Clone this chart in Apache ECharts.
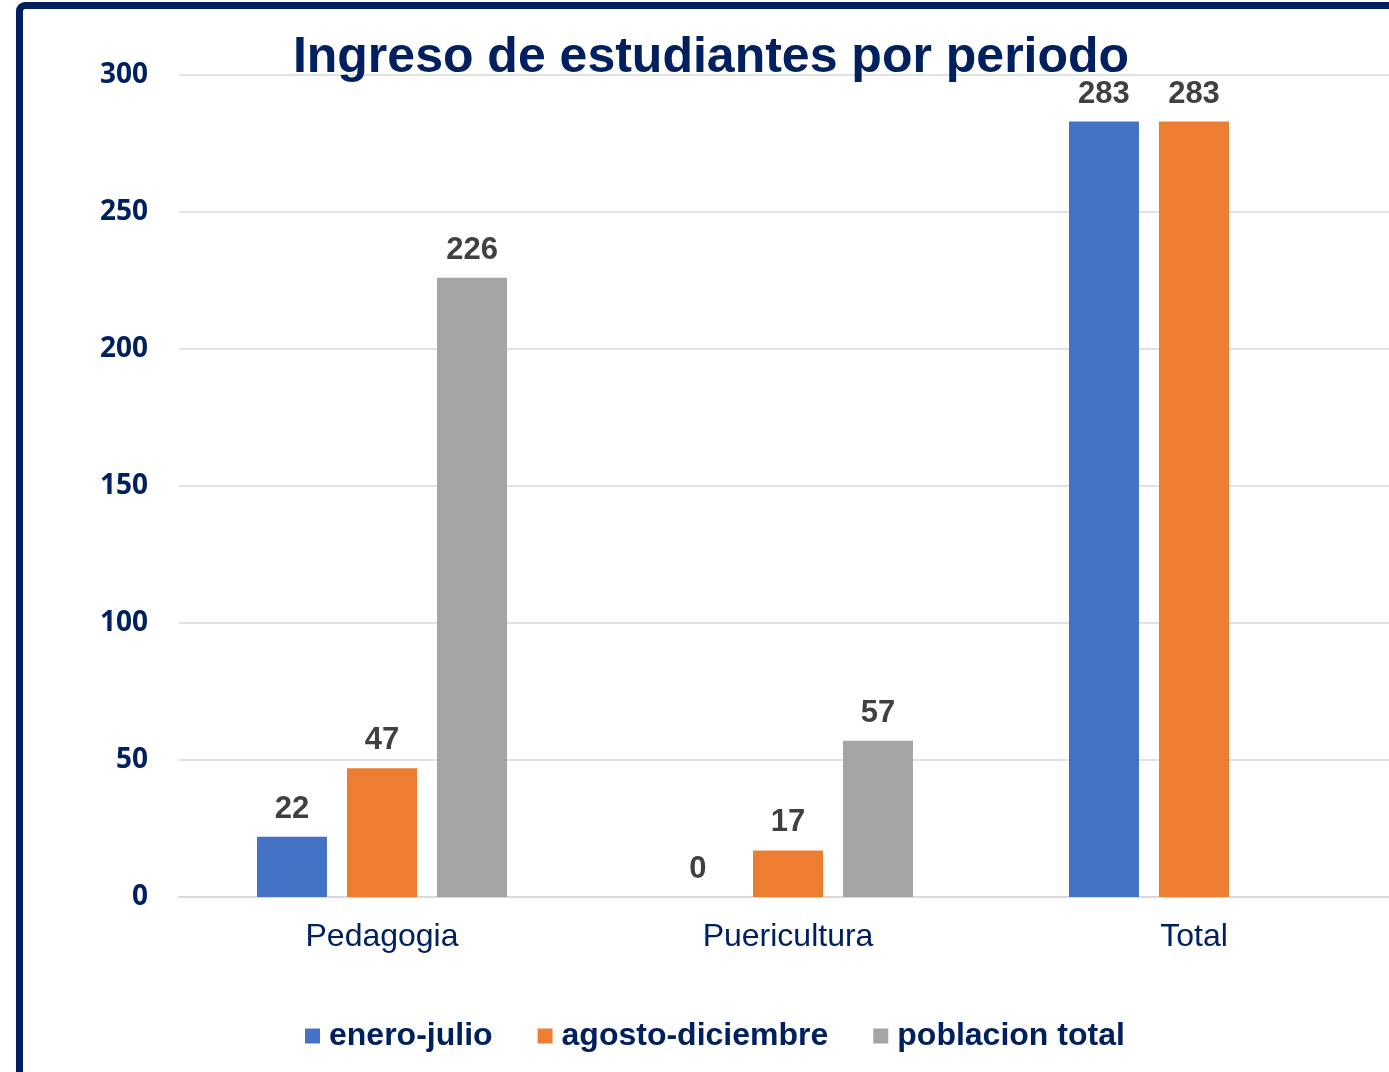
<!DOCTYPE html>
<html>
<head>
<meta charset="utf-8">
<script src="https://cdn.jsdelivr.net/npm/echarts@6/dist/echarts.min.js"></script>
<style>
html,body{margin:0;padding:0;background:#fff;overflow:hidden;width:1389px;height:1072px;}
#chart{width:1400px;height:1072px;position:absolute;left:0;top:0;}
#frame{position:absolute;left:16px;top:2px;width:1400px;height:1100px;border-left:7px solid #002060;border-top:7px solid #002060;border-top-left-radius:9px;pointer-events:none;box-sizing:border-box;}
</style>
</head>
<body>
<div id="chart"></div>
<div id="frame"></div>
<script>
const categories = ['Pedagogia', 'Puericultura', 'Total'];
const seriesNames = ['enero-julio', 'agosto-diciembre', 'poblacion total'];
const eneroJulio = [22, 0, 283];
const agostoDiciembre = [47, 17, 283];
const poblacionTotal = [226, 57, null];
const yTicks = [0, 50, 100, 150, 200, 250, 300];
const colors = ['#4472C4', '#ED7D31', '#A5A5A5'];

const navy = '#002060';
const chart = echarts.init(document.getElementById('chart'), null, {renderer: 'canvas', width: 1400, height: 1072});

const label = {
  show: true,
  position: 'top',
  distance: 12,
  color: '#404040',
  fontFamily: 'Liberation Sans, Arial, sans-serif',
  fontWeight: 'bold',
  fontSize: 31
};

function mk(name, data, color) {
  return {
    name: name,
    type: 'bar',
    data: data,
    barWidth: 70,
    barGap: '28.6%',
    itemStyle: {color: color},
    label: label
  };
}

chart.setOption({
  animation: false,
  backgroundColor: 'transparent',
  title: {
    text: 'Ingreso de estudiantes por periodo',
    left: 706,
    textAlign: 'center',
    top: 28,
    textStyle: {
      color: navy,
      fontFamily: 'Liberation Sans, Arial, sans-serif',
      fontWeight: 'bold',
      fontSize: 50
    }
  },
  legend: {
    left: 305,
    top: 1020,
    padding: 0,
    itemWidth: 15,
    itemHeight: 15,
    itemGap: 45,
    icon: 'rect',
    data: seriesNames,
    textStyle: {
      color: navy,
      fontFamily: 'Liberation Sans, Arial, sans-serif',
      fontWeight: 'bold',
      fontSize: 32,
      padding: [0, 0, 0, 4]
    }
  },
  grid: {left: 179, right: 3, top: 75, bottom: 175, containLabel: false},
  xAxis: {
    type: 'category',
    data: categories,
    axisTick: {show: false},
    axisLine: {lineStyle: {color: '#d9d9d9', width: 2}},
    axisLabel: {
      margin: 24,
      color: navy,
      fontFamily: 'Liberation Sans, Arial, sans-serif',
      fontSize: 32
    }
  },
  yAxis: {
    type: 'value',
    min: yTicks[0],
    max: yTicks[yTicks.length - 1],
    interval: 50,
    axisLine: {show: false},
    axisTick: {show: false},
    splitLine: {lineStyle: {color: '#d9d9d9', width: 1.5}},
    axisLabel: {
      margin: 31,
      color: navy,
      fontFamily: 'Open Sans, Noto Sans, sans-serif',
      fontWeight: 'bold',
      fontSize: 28
    }
  },
  series: [
    mk(seriesNames[0], eneroJulio, colors[0]),
    mk(seriesNames[1], agostoDiciembre, colors[1]),
    mk(seriesNames[2], poblacionTotal, colors[2])
  ]
});
</script>
</body>
</html>
